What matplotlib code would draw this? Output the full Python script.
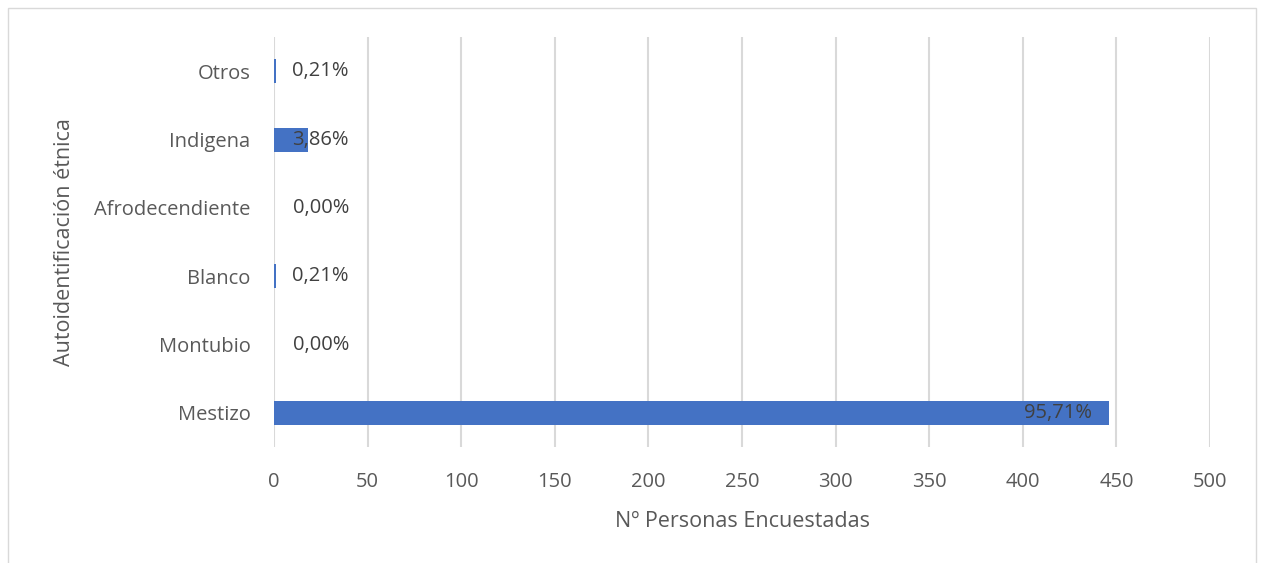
import matplotlib.pyplot as plt
from matplotlib.patches import Rectangle

categories = ["Mestizo", "Montubio", "Blanco", "Afrodecendiente", "Indigena", "Otros"]
counts = [446, 0, 1, 0, 18, 1]
pct_labels = ["95,71%", "0,00%", "0,21%", "0,00%", "3,86%", "0,21%"]

plt.rcParams["font.family"] = ["Open Sans", "DejaVu Sans"]

fig = plt.figure(figsize=(12.61, 5.63), dpi=100)
ax = fig.add_axes([0.2173, 0.206, 0.7423, 0.728])

# light frame around the whole chart, like the Excel chart area
fig.patches.append(Rectangle((8 / 1261, -0.01), 1248 / 1261, 1 - 8 / 563 + 0.01,
                             transform=fig.transFigure, fill=False,
                             edgecolor="#d9d9d9", linewidth=1))

y = range(len(categories))
ax.barh(y, counts, height=0.35, color="#4472C4", zorder=2)

for i, (v, lab) in enumerate(zip(counts, pct_labels)):
    ax.text(max(v, 49) - 9, i, lab, ha="right", va="center",
            fontsize=14.5, color="#404040", zorder=3)

ax.set_xlim(0, 500)
ax.set_ylim(-0.5, 5.5)
ax.set_xticks(range(0, 501, 50))
ax.set_yticks(list(y))
ax.set_yticklabels(categories)
ax.grid(axis="x", color="#d9d9d9", linewidth=1.5, zorder=0)
for s in ax.spines.values():
    s.set_visible(False)
ax.tick_params(length=0, labelsize=14.5, colors="#595959")
ax.tick_params(axis="x", pad=18)
ax.tick_params(axis="y", pad=17)

ax.set_xlabel("Nº Personas Encuestadas", fontsize=15.5, color="#595959", labelpad=14)
ax.set_ylabel("Autoidentificación étnica", fontsize=15.5, color="#595959", labelpad=14)

fig.savefig("out.png", dpi=100)
